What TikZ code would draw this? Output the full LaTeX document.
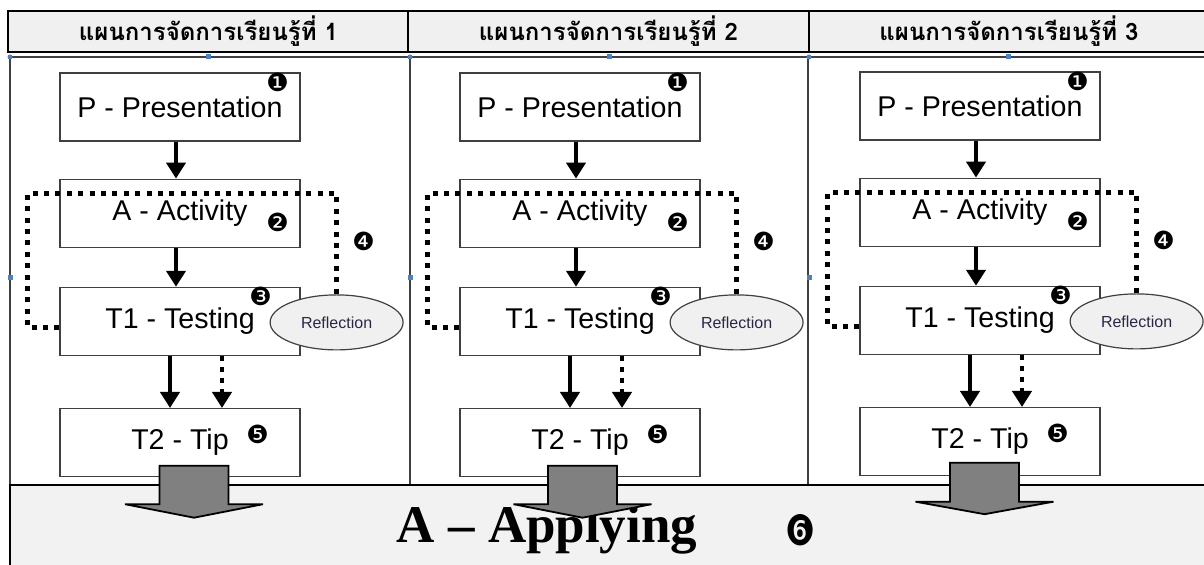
\documentclass[tikz,border=0pt]{standalone}
\usepackage{fontspec}
\setmainfont{Liberation Sans}
\newfontfamily\thaifont[Script=Thai]{Loma}
\newfontfamily\numfont{DejaVu Sans}
\newfontfamily\titleserif{Liberation Serif}
\usepackage{tikz}
\usetikzlibrary{arrows.meta,shapes,positioning}
\usepackage{xcolor}
\definecolor{plgray}{RGB}{64,64,64}
\definecolor{plhead}{RGB}{240,240,240}
\definecolor{plband}{RGB}{242,242,242}
\definecolor{plarrow}{RGB}{128,128,128}
\definecolor{plnavy}{RGB}{40,40,70}
\definecolor{plhandle}{RGB}{79,129,189}
\tikzstyle{headcell} = [rectangle, minimum width=200.5pt, minimum height=20.5pt, inner sep=0pt, draw=black, fill=plhead, line width=1pt, font=\thaifont\bfseries\fontsize{12}{14}\selectfont]
\tikzstyle{stagebox} = [rectangle, minimum width=120pt, minimum height=34pt, text centered, draw=plgray, fill=white, line width=0.6pt, font=\fontsize{14.3}{16}\selectfont]
\tikzstyle{reflect} = [ellipse, minimum width=66.5pt, minimum height=27.5pt, inner sep=0pt, draw=plgray, fill=plhead, line width=0.6pt, text=plnavy, font=\fontsize{8}{9}\selectfont]
\tikzstyle{numtag} = [inner sep=0pt, font=\numfont\fontsize{12.5}{12.5}\selectfont]
\tikzstyle{arrow} = [line width=2.2pt, -{Triangle[length=8pt,width=9.5pt]}]
\tikzstyle{dotarrow} = [arrow, dash pattern=on 2.5pt off 3pt]
\tikzstyle{loopline} = [line width=2.5pt, dash pattern=on 2.5pt off 3.2pt]
\tikzstyle{bigarrow} = [draw=black, line width=0.9pt, fill=plarrow]
\tikzstyle{handle} = [fill=plhandle, inner sep=0pt, minimum size=2.5pt]

\begin{document}
\begin{tikzpicture}[x=0.5pt,y=-0.5pt]
\useasboundingbox (0,0) rectangle (1204,565);
% Frame
\draw[plgray, line width=0.6pt] (10,57) -- (1215,57);
\draw[plgray, line width=0.6pt] (10,57) -- (10,485);
\draw[plgray, line width=0.6pt] (410,57) -- (410,485);
\draw[plgray, line width=0.6pt] (808,57) -- (808,485);
\node[handle, circle] (hd1) at (10,57) {};
\node[handle] (hd2) at (208,57) {};
\node[handle, circle] (hd3) at (410,57) {};
\node[handle] (hd4) at (609,57) {};
\node[handle, circle] (hd5) at (809,57) {};
\node[handle] (hd6) at (1008,57) {};
\node[handle] (hd7) at (10,278) {};
\node[handle] (hd8) at (410,278) {};
\node[handle] (hd9) at (809,278) {};

% Headers
\node[headcell] (h1) at (208.5,31.5) {แผนการจัดการเรียนรู้ที่ 1};
\node[headcell] (h2) at (608.5,31.5) {แผนการจัดการเรียนรู้ที่ 2};
\node[headcell] (h3) at (1009,31.5) {แผนการจัดการเรียนรู้ที่ 3};

% Plan 1
\node[stagebox] (p1) at (180,107) {P - Presentation};
\node[stagebox, below=18.5pt of p1] (a1) {A - Activity};
\node[stagebox, below=19.5pt of a1] (t1) {T1 - Testing};
\node[stagebox, below=26pt of t1] (tip1) {T2 - Tip};
\node[reflect] (r1) at ([shift={(18pt,-0.5pt)}]t1.east) {Reflection};
\node[numtag] (n1a) at ([shift={(-11.5pt,-5pt)}]p1.north east) {❶};
\node[numtag] (n1b) at ([shift={(-11.5pt,-4.5pt)}]a1.east) {❷};
\node[numtag] (n1c) at ([shift={(-20pt,-5pt)}]t1.north east) {❸};
\node[numtag] (n1d) at ([shift={(31.5pt,-14pt)}]a1.east) {❹};
\node[numtag] (n1e) at ([shift={(-21.5pt,-13pt)}]tip1.north east) {❺};
\draw[arrow] ([xshift=-2pt]p1.south) -- ([xshift=-2pt]a1.north);
\draw[arrow] ([xshift=-2pt]a1.south) -- ([xshift=-2pt]t1.north);
\draw[arrow] ([xshift=-5pt]t1.south) -- ([xshift=-5pt]tip1.north);
\draw[dotarrow] ([xshift=21pt]t1.south) -- ([xshift=21pt]tip1.north);
\draw[loopline] ([yshift=-3pt]t1.west) -- ++(-16pt,0) |- ([yshift=-7.5pt]a1.north) -| (r1.north);

% Plan 2
\node[stagebox] (p2) at (580,107) {P - Presentation};
\node[stagebox, below=18.5pt of p2] (a2) {A - Activity};
\node[stagebox, below=19.5pt of a2] (t2) {T1 - Testing};
\node[stagebox, below=26pt of t2] (tip2) {T2 - Tip};
\node[reflect] (r2) at ([shift={(18pt,-0.5pt)}]t2.east) {Reflection};
\node[numtag] (n2a) at ([shift={(-11.5pt,-5pt)}]p2.north east) {❶};
\node[numtag] (n2b) at ([shift={(-11.5pt,-4.5pt)}]a2.east) {❷};
\node[numtag] (n2c) at ([shift={(-20pt,-5pt)}]t2.north east) {❸};
\node[numtag] (n2d) at ([shift={(31.5pt,-14pt)}]a2.east) {❹};
\node[numtag] (n2e) at ([shift={(-21.5pt,-13pt)}]tip2.north east) {❺};
\draw[arrow] ([xshift=-2pt]p2.south) -- ([xshift=-2pt]a2.north);
\draw[arrow] ([xshift=-2pt]a2.south) -- ([xshift=-2pt]t2.north);
\draw[arrow] ([xshift=-5pt]t2.south) -- ([xshift=-5pt]tip2.north);
\draw[dotarrow] ([xshift=21pt]t2.south) -- ([xshift=21pt]tip2.north);
\draw[loopline] ([yshift=-3pt]t2.west) -- ++(-16pt,0) |- ([yshift=-7.5pt]a2.north) -| (r2.north);

% Plan 3
\node[stagebox] (p3) at (980,106) {P - Presentation};
\node[stagebox, below=18.5pt of p3] (a3) {A - Activity};
\node[stagebox, below=19.5pt of a3] (t3) {T1 - Testing};
\node[stagebox, below=26pt of t3] (tip3) {T2 - Tip};
\node[reflect] (r3) at ([shift={(18pt,-0.5pt)}]t3.east) {Reflection};
\node[numtag] (n3a) at ([shift={(-11.5pt,-5pt)}]p3.north east) {❶};
\node[numtag] (n3b) at ([shift={(-11.5pt,-4.5pt)}]a3.east) {❷};
\node[numtag] (n3c) at ([shift={(-20pt,-5pt)}]t3.north east) {❸};
\node[numtag] (n3d) at ([shift={(31.5pt,-14pt)}]a3.east) {❹};
\node[numtag] (n3e) at ([shift={(-21.5pt,-13pt)}]tip3.north east) {❺};
\draw[arrow] ([xshift=-2pt]p3.south) -- ([xshift=-2pt]a3.north);
\draw[arrow] ([xshift=-2pt]a3.south) -- ([xshift=-2pt]t3.north);
\draw[arrow] ([xshift=-5pt]t3.south) -- ([xshift=-5pt]tip3.north);
\draw[dotarrow] ([xshift=21pt]t3.south) -- ([xshift=21pt]tip3.north);
\draw[loopline] ([yshift=-3pt]t3.west) -- ++(-16pt,0) |- ([yshift=-7.5pt]a3.north) -| (r3.north);

% Applying band
\draw[line width=1.2pt, fill=plband] (10,485) rectangle (1215,575);
\node[font=\titleserif\bfseries\fontsize{26.5}{30}\selectfont] (apply) at (547,530) {A – Applying};
\node[font=\numfont\fontsize{21}{21}\selectfont] (six) at (801,530) {\scalebox{0.8}[1]{❻}};

% Block arrows
\coordinate (d1) at ([shift={(7pt,5.75pt)}]tip1.south);
\coordinate (d2) at ([shift={(1.25pt,5.75pt)}]tip2.south);
\coordinate (d3) at ([shift={(2.25pt,6.75pt)}]tip3.south);
\draw[bigarrow] (d1) ++(-34.5,0) -- ++(69,0) -- ++(0,38.5) -- ++(34.5,0) -- ++(-69,13.5) -- ++(-69,-13.5) -- ++(34.5,0) -- cycle;
\draw[bigarrow] (d2) ++(-34.5,0) -- ++(69,0) -- ++(0,38.5) -- ++(34.5,0) -- ++(-69,13.5) -- ++(-69,-13.5) -- ++(34.5,0) -- cycle;
\draw[bigarrow] (d3) ++(-34.5,0) -- ++(69,0) -- ++(0,39) -- ++(34.5,0) -- ++(-69,12.5) -- ++(-69,-12.5) -- ++(34.5,0) -- cycle;
\end{tikzpicture}
\end{document}
